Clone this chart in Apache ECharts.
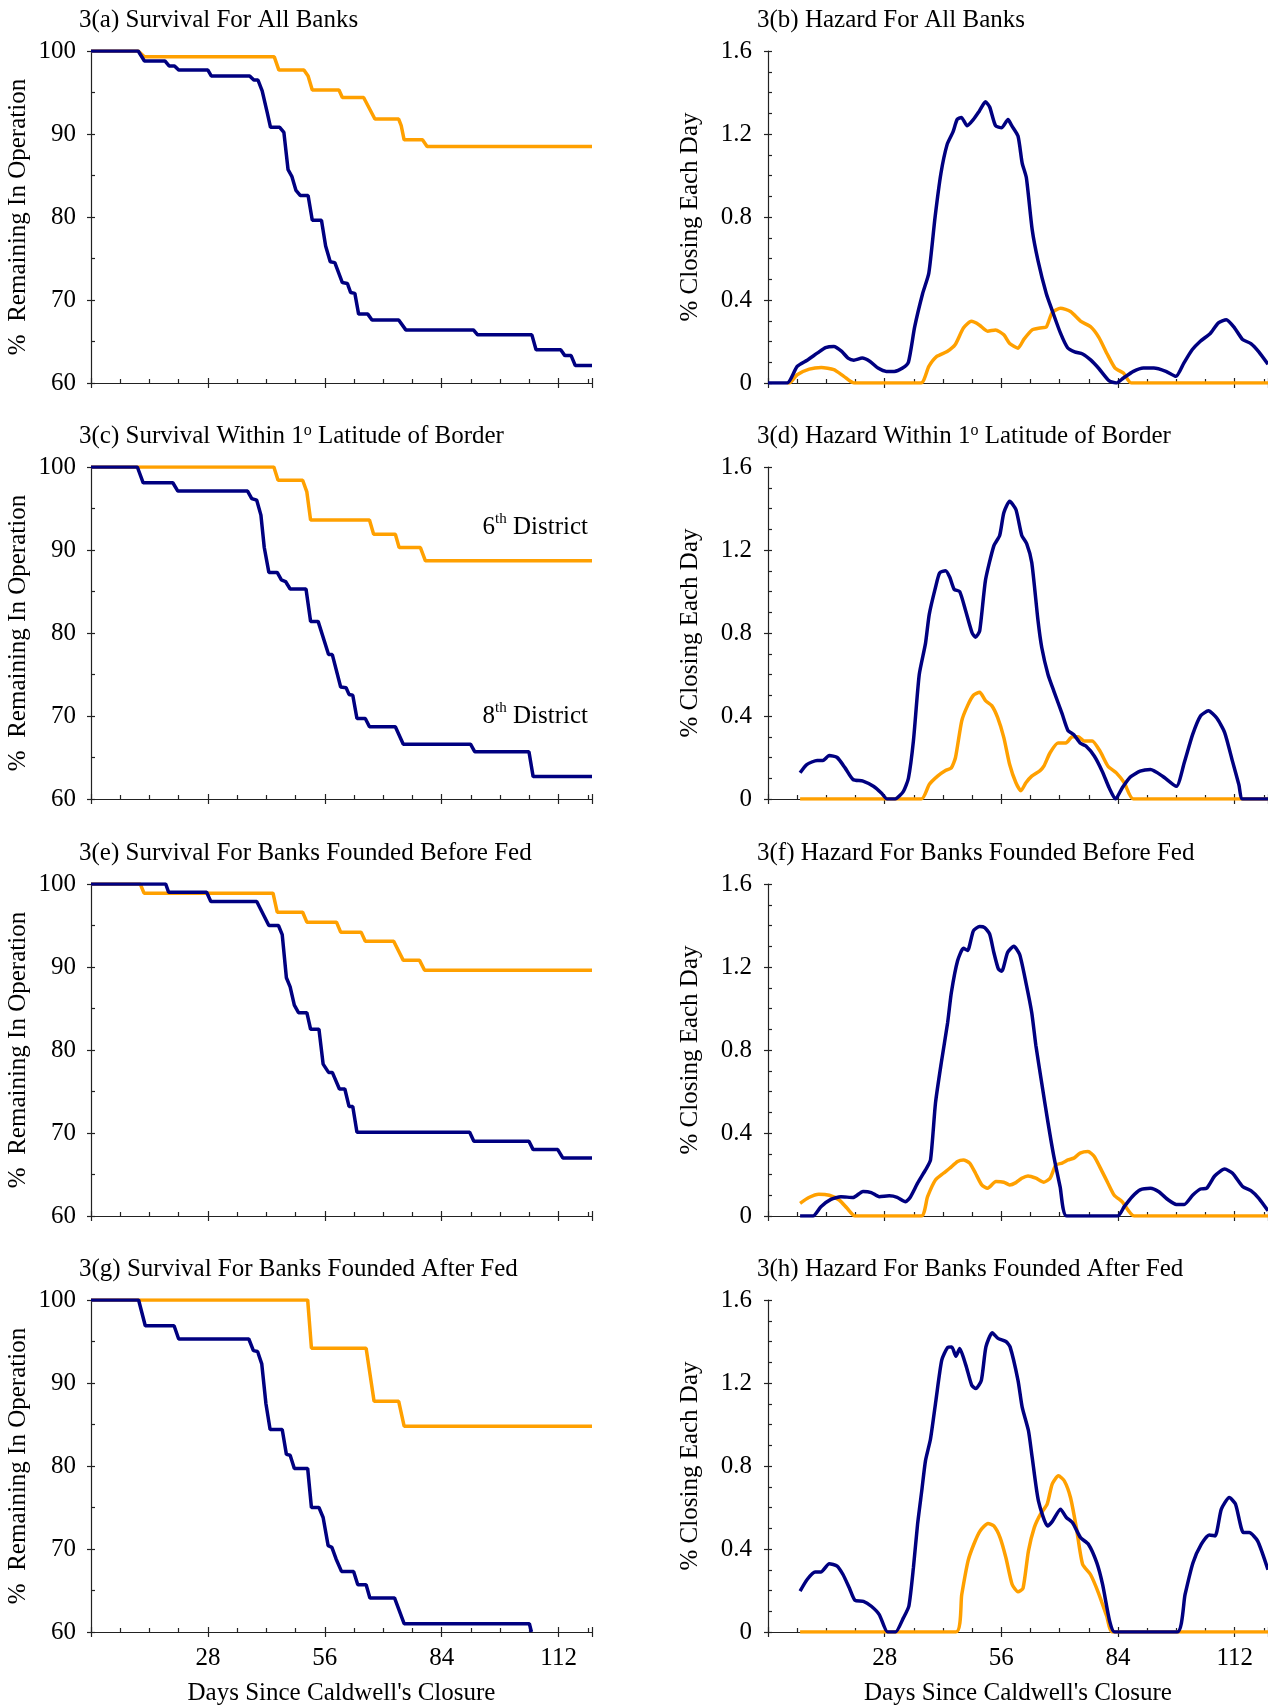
<!DOCTYPE html>
<html>
<head>
<meta charset="utf-8">
<script src="https://cdn.jsdelivr.net/npm/echarts@6/dist/echarts.min.js"></script>
<style>
html, body { margin: 0; padding: 0; background: #fff; }
#canvasWrap { width: 1268px; height: 1705px; }
</style>
</head>
<body>
<div id="canvasWrap"></div>
<script>
const FONT = '"Liberation Serif", "Times New Roman", serif';
const NAVY = '#000080';
const ORANGE = '#ffa000';

// x ticks (days) and y ticks
const dayTicks = [28, 56, 84, 112];
const survivalTicks = [60, 70, 80, 90, 100];
const hazardTicks = [0, 0.4, 0.8, 1.2, 1.6];

// survival curves: [day, % remaining]
const survAll6 = [[0,100],[11.3,100],[12.8,99.3],[43.9,99.3],[45,97.7],[51,97.7],[52,97],[53,95.3],[59.4,95.3],[60.2,94.4],[65.3,94.4],[68,91.8],[73.7,91.8],[74.3,91],[75,89.3],[79.4,89.3],[80.5,88.5],[120,88.5]];
const survAll8 = [[0,100],[11.3,100],[12.8,98.8],[17.7,98.8],[18.7,98.2],[20,98.2],[21,97.7],[28,97.7],[28.8,97.0],[38,97.0],[39,96.5],[40,96.5],[41,95.2],[42.2,92.6],[43,90.8],[45.2,90.8],[46.2,90.2],[47.2,85.7],[48.1,84.9],[49.1,83.2],[50.1,82.6],[52,82.6],[53,79.6],[55.2,79.6],[56.2,76.5],[57.3,74.6],[58.4,74.5],[60.2,72.1],[61.4,72],[62.2,70.9],[63.2,70.8],[64.1,68.3],[66.3,68.3],[67.3,67.6],[73.7,67.6],[75.4,66.4],[91.6,66.4],[92.6,65.8],[105.6,65.8],[106.6,64],[112.5,64],[113.5,63.3],[115,63.3],[116,62.1],[120,62.1]];

const survBorder6 = [[0,100],[43.8,100],[44.8,98.4],[50.7,98.4],[51.7,97],[52.6,93.6],[66.7,93.6],[67.7,91.9],[72.9,91.9],[73.8,90.3],[78.9,90.3],[80.1,88.7],[120,88.7]];
const survBorder8 = [[0,100],[11.1,100],[12.5,98.1],[19.6,98.1],[20.8,97.1],[37.5,97.1],[38.5,96.2],[39.7,96],[40.7,94.2],[41.5,90.3],[42.6,87.3],[44.6,87.3],[45.6,86.4],[46.6,86.2],[47.7,85.3],[51.5,85.3],[52.6,81.4],[54.4,81.4],[56.9,77.4],[57.8,77.4],[59.8,73.5],[61.1,73.4],[61.8,72.6],[62.7,72.5],[63.7,69.7],[65.7,69.7],[66.7,68.7],[72.9,68.7],[74.8,66.6],[90.9,66.6],[91.9,65.7],[104.9,65.7],[105.9,62.7],[120,62.7]];

const survBefore6 = [[0,100],[11.8,100],[12.7,98.9],[43.6,98.9],[44.6,96.6],[50.7,96.6],[51.7,95.4],[58.8,95.4],[59.8,94.2],[64.7,94.2],[65.7,93.1],[72.5,93.1],[74.8,90.8],[78.7,90.8],[79.9,89.6],[120,89.6]];
const survBefore8 = [[0,100],[17.9,100],[18.6,99],[27.7,99],[28.7,97.9],[39.7,97.9],[42.6,95],[44.9,95],[45.8,93.9],[46.8,88.7],[47.7,87.6],[48.7,85.4],[49.7,84.5],[51.7,84.5],[52.6,82.5],[54.6,82.5],[55.6,78.3],[56.9,77.3],[57.8,77.3],[59.5,75.3],[60.8,75.3],[61.8,73.2],[62.7,73.2],[63.7,70.1],[90.7,70.1],[91.7,69],[104.9,69],[105.9,68],[111.8,68],[113,67],[120,67]];

const survAfter6 = [[0,100],[51.9,100],[52.8,94.2],[65.9,94.2],[67.8,87.8],[73.7,87.8],[75,84.8],[120,84.8]];
const survAfter8 = [[0,100],[11.4,100],[13,96.9],[19.9,96.9],[21,95.3],[37.8,95.3],[38.9,93.9],[39.9,93.8],[40.9,92.3],[41.9,87.5],[42.9,84.4],[45.8,84.4],[46.8,81.4],[47.7,81.3],[48.7,79.7],[51.9,79.7],[52.8,75],[54.6,75],[55.6,73.8],[56.8,70.4],[57.7,70.2],[58.7,68.8],[60,67.3],[62.9,67.3],[63.9,65.7],[65.9,65.7],[66.8,64.1],[72.7,64.1],[75,61],[105,61],[105.5,60]];

// hazard curves: [day, % closing each day]
const hazAll6 = [[4.6,0],[5.1,0],[7,0.04],[9.9,0.067],[12.8,0.075],[15.8,0.064],[18.2,0.032],[20.6,0],[36.7,0],[38.6,0.08],[40.5,0.128],[43,0.152],[44.9,0.184],[46.9,0.265],[48.8,0.297],[50.7,0.28],[52.7,0.25],[54.6,0.256],[56.6,0.232],[58,0.19],[60,0.168],[61.4,0.21],[63.4,0.256],[65.3,0.265],[66.8,0.27],[68.2,0.34],[70.2,0.36],[72.6,0.345],[75.1,0.297],[77.5,0.27],[79.4,0.22],[81.4,0.14],[83.3,0.072],[85.3,0.048],[87.2,0],[120,0]];
const hazAll8 = [[0,0],[4.6,0],[7,0.08],[9.4,0.11],[11.9,0.145],[13.8,0.17],[15.8,0.176],[17.7,0.152],[19.2,0.12],[20.6,0.11],[22.6,0.12],[24.5,0.104],[26.4,0.072],[28.4,0.056],[30.3,0.056],[32.3,0.072],[33.7,0.1],[35.2,0.27],[37.1,0.43],[38.6,0.53],[40.1,0.8],[41.5,1.01],[43,1.15],[44.4,1.21],[45.4,1.27],[46.4,1.28],[47.8,1.24],[49.3,1.27],[50.7,1.31],[52.2,1.355],[53.2,1.33],[54.6,1.24],[56.1,1.23],[57.6,1.27],[58.5,1.24],[60,1.19],[61,1.06],[62,0.99],[63.4,0.74],[64.8,0.59],[66.8,0.43],[68.2,0.35],[70.2,0.24],[71.9,0.17],[73.6,0.15],[75.5,0.14],[77.5,0.11],[79.4,0.07],[81.9,0.01],[83.6,0],[85.3,0.024],[87.7,0.056],[90.1,0.072],[92.6,0.072],[95.5,0.056],[97.9,0.032],[99.8,0.096],[101.8,0.16],[103.7,0.2],[106.2,0.24],[108.1,0.29],[110,0.305],[112,0.265],[113.9,0.21],[115.9,0.19],[117.8,0.15],[120,0.09]];

const hazBorder6 = [[7.7,0],[36.8,0],[38.7,0.07],[40.7,0.11],[42.6,0.137],[44,0.15],[45,0.2],[46.5,0.377],[47.9,0.45],[49.3,0.5],[50.8,0.514],[52.2,0.474],[53.7,0.45],[55.1,0.393],[56.6,0.296],[58,0.166],[59.5,0.078],[60.7,0.04],[61.9,0.078],[63.3,0.11],[65.3,0.137],[66.2,0.158],[67.7,0.223],[69.6,0.27],[71.5,0.27],[73,0.3],[74.4,0.3],[75.9,0.28],[77.8,0.28],[79.7,0.23],[81.6,0.158],[83.6,0.126],[85.5,0.078],[87.7,0],[120,0]];
const hazBorder8 = [[7.7,0.126],[9.3,0.166],[11.8,0.186],[13.2,0.186],[14.7,0.21],[16.6,0.2],[18.5,0.15],[20.4,0.094],[22.8,0.086],[25.3,0.061],[27.2,0.029],[28.6,0],[30.5,0],[32.5,0.037],[33.7,0.1],[34.9,0.28],[36.3,0.6],[37.8,0.75],[38.7,0.89],[40.2,1.02],[41.2,1.09],[42.6,1.1],[43.6,1.07],[44.7,1.01],[46,1],[47.4,0.91],[49,0.8],[49.8,0.78],[50.8,0.81],[52.2,1.055],[54.2,1.22],[55.6,1.27],[56.6,1.38],[58,1.435],[59.5,1.395],[60.9,1.27],[62.1,1.23],[63.3,1.14],[64.8,0.86],[65.7,0.73],[67.2,0.6],[68.6,0.52],[70.6,0.41],[72,0.33],[73.4,0.31],[74.9,0.27],[76.3,0.255],[78.3,0.207],[80.2,0.134],[81.9,0.053],[83.4,0],[85,0.053],[86.9,0.105],[89.3,0.134],[91.8,0.142],[94.7,0.11],[98,0.061],[99.9,0.175],[101.9,0.31],[103.8,0.4],[105.7,0.425],[107.7,0.39],[109.6,0.32],[111.5,0.18],[113,0.07],[113.9,0],[120,0]];

const hazBefore6 = [[7.7,0.061],[9.8,0.089],[12.2,0.105],[14.7,0.1],[17.1,0.077],[19,0.037],[20.9,0],[36.8,0],[38.3,0.093],[40.2,0.174],[42.1,0.206],[43.6,0.23],[45.5,0.263],[46.9,0.27],[48.4,0.255],[49.8,0.206],[51.3,0.15],[52.7,0.134],[54.7,0.166],[56.6,0.163],[58,0.15],[59.5,0.161],[60.9,0.182],[62.4,0.193],[64.3,0.182],[66.2,0.163],[67.7,0.182],[69.1,0.246],[70.6,0.255],[72,0.27],[73.4,0.279],[74.9,0.303],[76.8,0.311],[78.3,0.287],[80.2,0.214],[81.6,0.158],[83.1,0.1],[85,0.069],[87.9,0],[120,0]];
const hazBefore8 = [[7.7,0],[10.8,0],[12.7,0.045],[15.1,0.08],[17.5,0.093],[20.4,0.089],[22.8,0.118],[24.8,0.113],[26.7,0.093],[29.1,0.097],[31,0.09],[33,0.069],[34.1,0.089],[35.9,0.158],[37.8,0.222],[39,0.27],[40.2,0.545],[41.6,0.74],[43.1,0.93],[44,1.076],[45.5,1.23],[46.9,1.29],[47.9,1.28],[49.3,1.375],[50.8,1.395],[52,1.39],[53.2,1.358],[54.2,1.27],[55.3,1.19],[56.1,1.18],[57.5,1.27],[59,1.3],[60.4,1.26],[61.9,1.125],[63.3,0.98],[64.3,0.82],[65.7,0.64],[67.2,0.45],[68.6,0.287],[70.1,0.142],[71.7,0],[83.9,0],[85.5,0.045],[87.4,0.093],[89.3,0.126],[91.8,0.134],[93.7,0.118],[96.1,0.077],[98,0.056],[99.9,0.056],[101.9,0.1],[103.8,0.13],[105.3,0.134],[107.2,0.193],[109.6,0.226],[111.5,0.206],[113.9,0.142],[115.9,0.122],[117.8,0.085],[120,0.025]];

const hazAfter6 = [[7.7,0],[45.1,0],[46.5,0.181],[48,0.342],[49.4,0.423],[50.9,0.487],[52.8,0.523],[54.2,0.511],[55.7,0.455],[57.1,0.358],[58.6,0.229],[60,0.194],[61.2,0.21],[62.5,0.39],[63.9,0.503],[65.4,0.568],[67,0.616],[68.2,0.713],[69.7,0.753],[71.1,0.729],[72.6,0.648],[74,0.503],[75.5,0.326],[77.4,0.277],[79.3,0.189],[81.3,0.076],[82.7,0],[120,0]];
const hazAfter8 = [[7.7,0.197],[9.4,0.253],[11.3,0.289],[12.7,0.289],[14.7,0.329],[16.6,0.318],[18,0.277],[19.5,0.213],[20.9,0.152],[22.9,0.148],[24.8,0.124],[26.7,0.084],[28.7,0],[30.6,0],[32.5,0.068],[33.8,0.124],[34.9,0.31],[35.9,0.52],[36.9,0.68],[37.8,0.826],[39,0.93],[40.3,1.116],[41.7,1.31],[43.1,1.371],[44.1,1.374],[45.1,1.329],[46,1.366],[47.5,1.285],[48.9,1.189],[49.9,1.173],[51.2,1.213],[52.3,1.374],[53.8,1.442],[55.2,1.415],[57.1,1.4],[58.1,1.374],[60,1.213],[61,1.084],[62.5,0.971],[63.4,0.842],[64.9,0.632],[67.1,0.511],[68.2,0.532],[70.2,0.592],[71.6,0.552],[73.1,0.527],[75,0.455],[76.9,0.423],[78.9,0.334],[80.3,0.229],[82,0.052],[83.2,0],[98.2,0],[100.1,0.181],[102,0.334],[104,0.423],[105.9,0.468],[107.3,0.463],[108.8,0.592],[110.7,0.648],[112.2,0.616],[114.1,0.479],[115.5,0.479],[117.5,0.439],[120,0.3]];

const panels = [
    { title: '3(a) Survival For All Banks', kind: 'surv', sixth: survAll6, eighth: survAll8 },
    { title: '3(b) Hazard For All Banks', kind: 'haz', sixth: hazAll6, eighth: hazAll8 },
    { title: '3(c) Survival Within 1{sup|o} Latitude of Border', kind: 'surv', sixth: survBorder6, eighth: survBorder8 },
    { title: '3(d) Hazard Within 1{sup|o} Latitude of Border', kind: 'haz', sixth: hazBorder6, eighth: hazBorder8 },
    { title: '3(e) Survival For Banks Founded Before Fed', kind: 'surv', sixth: survBefore6, eighth: survBefore8 },
    { title: '3(f) Hazard For Banks Founded Before Fed', kind: 'haz', sixth: hazBefore6, eighth: hazBefore8 },
    { title: '3(g) Survival For Banks Founded After Fed', kind: 'surv', sixth: survAfter6, eighth: survAfter8 },
    { title: '3(h) Hazard For Banks Founded After Fed', kind: 'haz', sixth: hazAfter6, eighth: hazAfter8 }
];

const rowTops = [51, 467, 884, 1300];
const plotHeight = 332;
const colLeft = [91, 768];
const colWidth = [501, 500];
const titleLeft = [79, 757];

const baseText = { fontFamily: FONT, fontSize: 25, color: '#000', fontWeight: 'normal' };
const axisLineStyle = { color: '#222', width: 1.2 };

const grids = [], xAxes = [], yAxes = [], titles = [], series = [];

panels.forEach((p, i) => {
    const row = Math.floor(i / 2);
    const col = i % 2;
    const isBottom = row === 3;
    const surv = p.kind === 'surv';
    const ticks = surv ? survivalTicks : hazardTicks;
    const yMin = ticks[0], yMax = ticks[ticks.length - 1], yStep = ticks[1] - ticks[0];

    grids.push({
        left: colLeft[col],
        top: rowTops[row],
        width: colWidth[col],
        height: plotHeight,
        containLabel: false,
        outerBoundsMode: 'none'
    });

    titles.push({
        text: p.title,
        left: titleLeft[col],
        top: rowTops[row] - 44,
        padding: 0,
        textStyle: Object.assign({}, baseText, {
            lineHeight: 26,
            rich: {
                sup: { fontFamily: FONT, fontSize: 16, color: '#000', verticalAlign: 'top', lineHeight: 26 }
            }
        })
    });

    // main x axis: line, labels, inward ticks (major + minor every 7 days)
    xAxes.push({
        type: 'value',
        gridIndex: i,
        position: 'bottom',
        min: 0,
        max: 120,
        interval: 28,
        splitLine: { show: false },
        axisLine: { show: true, onZero: false, lineStyle: axisLineStyle },
        axisTick: { show: true, inside: true, length: 5, lineStyle: axisLineStyle },
        minorTick: { show: true, splitNumber: 4, length: 4, lineStyle: axisLineStyle },
        axisLabel: {
            show: isBottom,
            margin: 14,
            fontFamily: FONT,
            fontSize: 25,
            color: '#000',
            formatter: v => dayTicks.indexOf(v) >= 0 ? String(v) : ''
        },
        name: isBottom ? "Days Since Caldwell's Closure" : '',
        nameLocation: 'middle',
        nameGap: 49,
        nameTextStyle: baseText
    });
    // second x axis: only the outward half of the major ticks
    xAxes.push({
        type: 'value',
        gridIndex: i,
        position: 'bottom',
        min: 0,
        max: 120,
        interval: 28,
        splitLine: { show: false },
        axisLine: { show: false, onZero: false },
        axisTick: { show: true, inside: false, length: 5, lineStyle: axisLineStyle },
        axisLabel: { show: false }
    });

    yAxes.push({
        type: 'value',
        gridIndex: i,
        position: 'left',
        min: yMin,
        max: yMax,
        interval: yStep,
        splitLine: { show: false },
        axisLine: { show: true, onZero: false, lineStyle: axisLineStyle },
        axisTick: { show: true, inside: true, length: 4, lineStyle: axisLineStyle },
        minorTick: { show: true, splitNumber: surv ? 2 : 4, length: 4, lineStyle: axisLineStyle },
        axisLabel: {
            margin: surv ? 15 : 16,
            fontFamily: FONT,
            fontSize: 25,
            color: '#000',
            formatter: v => surv ? String(v) : (v === 0 ? '0' : v.toFixed(1))
        },
        name: surv ? '%  Remaining In Operation' : '% Closing Each Day',
        nameLocation: 'middle',
        nameGap: surv ? 60 : 65,
        nameTextStyle: baseText
    });
    yAxes.push({
        type: 'value',
        gridIndex: i,
        position: 'left',
        min: yMin,
        max: yMax,
        interval: yStep,
        splitLine: { show: false },
        axisLine: { show: false, onZero: false },
        axisTick: { show: true, inside: false, length: 4, lineStyle: axisLineStyle },
        axisLabel: { show: false }
    });

    const common = {
        type: 'line',
        xAxisIndex: 2 * i,
        yAxisIndex: 2 * i,
        showSymbol: false,
        symbol: 'none',
        smooth: surv ? false : 0.2,
        silent: true,
        clip: true
    };
    series.push(Object.assign({}, common, {
        name: '6th District',
        data: p.sixth,
        lineStyle: { color: ORANGE, width: 3.5 },
        itemStyle: { color: ORANGE }
    }));
    series.push(Object.assign({}, common, {
        name: '8th District',
        data: p.eighth,
        lineStyle: { color: NAVY, width: 3.5 },
        itemStyle: { color: NAVY }
    }));
});

const districtRich = {
    n: { fontFamily: FONT, fontSize: 25, color: '#000', verticalAlign: 'bottom', lineHeight: 28 },
    s: { fontFamily: FONT, fontSize: 15, color: '#000', verticalAlign: 'top', lineHeight: 28 }
};

const myChart = echarts.init(document.getElementById('canvasWrap'), null, { renderer: 'canvas' });

const option = {
    backgroundColor: '#fff',
    animation: false,
    title: titles,
    grid: grids,
    xAxis: xAxes,
    yAxis: yAxes,
    series: series,
    graphic: [
        {
            type: 'text',
            x: 588,
            y: 526,
            style: { text: '{n|6}{s|th}{n| District}', rich: districtRich, align: 'right', verticalAlign: 'middle' }
        },
        {
            type: 'text',
            x: 588,
            y: 715,
            style: { text: '{n|8}{s|th}{n| District}', rich: districtRich, align: 'right', verticalAlign: 'middle' }
        }
    ]
};

myChart.setOption(option);
</script>
</body>
</html>
